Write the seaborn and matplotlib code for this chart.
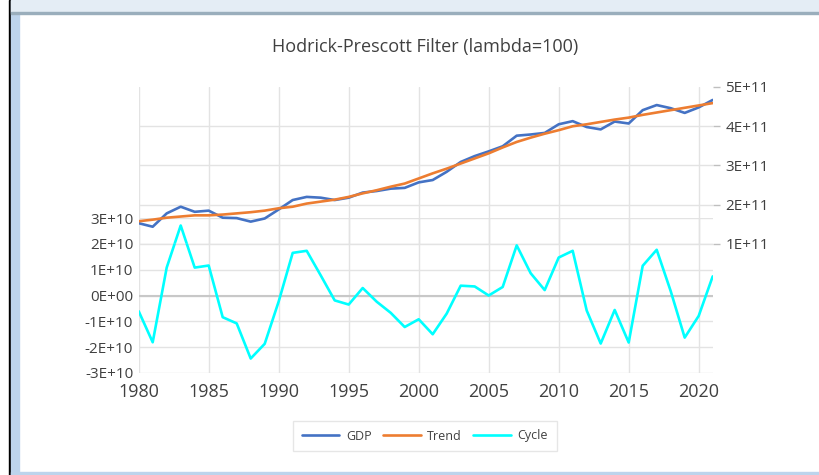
import numpy as np
import pandas as pd
import seaborn as sns
import matplotlib.pyplot as plt
from matplotlib.patches import Rectangle
from matplotlib.lines import Line2D

# ---- data ----
years = list(range(1980, 2022))

gdp = [1.53, 1.44, 1.78, 1.95, 1.82, 1.85, 1.67, 1.66, 1.57, 1.65,
       1.88, 2.12, 2.20, 2.18, 2.12, 2.18, 2.31, 2.35, 2.41, 2.43,
       2.57, 2.63, 2.84, 3.09, 3.24, 3.36, 3.49, 3.76, 3.79, 3.83,
       4.05, 4.13, 3.98, 3.92, 4.12, 4.07, 4.41, 4.54, 4.46, 4.34,
       4.48, 4.67]  # x 1E11

trend = [1.58, 1.62, 1.67, 1.70, 1.73, 1.73, 1.75, 1.78, 1.81, 1.85,
         1.91, 1.95, 2.03, 2.08, 2.13, 2.20, 2.29, 2.37, 2.46, 2.54,
         2.67, 2.80, 2.92, 3.05, 3.18, 3.31, 3.46, 3.60, 3.71, 3.81,
         3.90, 4.00, 4.05, 4.11, 4.17, 4.22, 4.29, 4.35, 4.41, 4.47,
         4.53, 4.59]  # x 1E11

cycle = [-0.61, -1.81, 1.08, 2.71, 1.08, 1.16, -0.84, -1.08, -2.44, -1.87,
         -0.23, 1.65, 1.73, 0.78, -0.19, -0.35, 0.29, -0.24, -0.67, -1.22,
         -0.92, -1.50, -0.70, 0.38, 0.35, 0.00, 0.33, 1.94, 0.86, 0.21,
         1.47, 1.73, -0.58, -1.86, -0.56, -1.82, 1.15, 1.77, 0.17, -1.63,
         -0.79, 0.74]  # x 1E10

upper_ticks = [1e11, 2e11, 3e11, 4e11, 5e11]
upper_labels = ["1E+11", "2E+11", "3E+11", "4E+11", "5E+11"]
lower_ticks = [-3e10, -2e10, -1e10, 0, 1e10, 2e10, 3e10]
lower_labels = ["-3E+10", "-2E+10", "-1E+10", "0E+00", "1E+10", "2E+10", "3E+10"]
x_ticks = [1980, 1985, 1990, 1995, 2000, 2005, 2010, 2015, 2020]

df = pd.DataFrame({"Year": years,
                   "GDP": np.array(gdp) * 1e11,
                   "Trend": np.array(trend) * 1e11,
                   "Cycle": np.array(cycle) * 1e10})

sns.set_style("white")
plt.rcParams['font.family'] = ['Open Sans', 'DejaVu Sans']

C_GDP = '#4472C4'
C_TREND = '#ED7D31'
C_CYCLE = '#00FFFF'
GRID = '#E3E3E3'
TXT = '#404040'
LW = 1.9

fig = plt.figure(figsize=(8.19, 4.75), dpi=100)
W, H = 819, 475

# Excel-like frame around the chart
fig.patches.append(Rectangle((0, 0), 1, 1, transform=fig.transFigure, color='white', zorder=-10))
fig.patches.append(Rectangle((9 / W, 0), 2 / W, 1, transform=fig.transFigure, color='black', zorder=-5))
fig.patches.append(Rectangle((11 / W, 0), 8 / W, 1, transform=fig.transFigure, color='#BDD4EC', zorder=-5))
fig.patches.append(Rectangle((11 / W, 0), 1, 3 / H, transform=fig.transFigure, color='#BDD4EC', zorder=-5))
fig.patches.append(Rectangle((11 / W, 1 - 12 / H), 1, 12 / H, transform=fig.transFigure, color='#E4EDF5', zorder=-5))
fig.patches.append(Rectangle((11 / W, 1 - 14 / H), 1, 2 / H, transform=fig.transFigure, color='#9AAEBC', zorder=-5))

x0, x1 = 138.7, 712.7
# lower axes (cycle)
ax_c = fig.add_axes([x0 / W, 1 - 373 / H, (x1 - x0) / W, (373 - 218) / H])
# upper axes (gdp, trend)
ax_g = fig.add_axes([x0 / W, 1 - 244 / H, (x1 - x0) / W, (244 - 87) / H])

for ax in (ax_c, ax_g):
    ax.set_facecolor('none')
    for s in ax.spines.values():
        s.set_visible(False)
    ax.set_xlim(1980, 2021)
    ax.set_xticks(x_ticks)
    ax.grid(True, axis='both', color=GRID, linewidth=1)
    ax.set_axisbelow(True)

sns.lineplot(data=df, x="Year", y="Cycle", ax=ax_c, color=C_CYCLE, linewidth=LW, legend=False)
ax_c.set_ylim(-3e10, 3e10)
ax_c.set_yticks(lower_ticks)
ax_c.set_yticklabels(lower_labels)
ax_c.axhline(0, color='#C8C8C8', linewidth=1.5, zorder=1)
ax_c.tick_params(axis='y', length=0, pad=4, labelsize=11, labelcolor=TXT)
ax_c.tick_params(axis='x', length=0, pad=7, labelsize=13, labelcolor=TXT)
ax_c.set_xlabel('')
ax_c.set_ylabel('')

sns.lineplot(data=df, x="Year", y="GDP", ax=ax_g, color=C_GDP, linewidth=LW, legend=False)
sns.lineplot(data=df, x="Year", y="Trend", ax=ax_g, color=C_TREND, linewidth=LW, legend=False)
ax_g.set_ylim(1e11, 5e11)
ax_g.set_yticks(upper_ticks)
ax_g.set_yticklabels(upper_labels)
ax_g.yaxis.tick_right()
ax_g.tick_params(axis='y', which='both', right=True, left=False, length=5, width=1,
                 color='#BFBFBF', pad=4, labelsize=11, labelcolor=TXT)
ax_g.tick_params(axis='x', labelbottom=False, length=0)
ax_g.set_xlabel('')
ax_g.set_ylabel('')
# no gridline along the top edge
ax_g.get_ygridlines()[-1].set_visible(False)

fig.text(425 / W, 1 - 47 / H, 'Hodrick-Prescott Filter (lambda=100)', ha='center', va='center',
         fontsize=13, color=TXT)

handles = [Line2D([], [], color=C_GDP, lw=LW),
           Line2D([], [], color=C_TREND, lw=LW),
           Line2D([], [], color=C_CYCLE, lw=LW)]
leg = fig.legend(handles, ['GDP', 'Trend', 'Cycle'], loc='center', bbox_to_anchor=(425 / W, 1 - 436 / H),
                 ncol=3, frameon=True, fontsize=9, handlelength=3.0, columnspacing=0.9,
                 handletextpad=0.55, fancybox=False, borderpad=0.7)
leg.get_frame().set_edgecolor('#E0E0E0')
leg.get_frame().set_linewidth(1)
for t in leg.get_texts():
    t.set_color(TXT)

fig.savefig('out.png', dpi=100)
